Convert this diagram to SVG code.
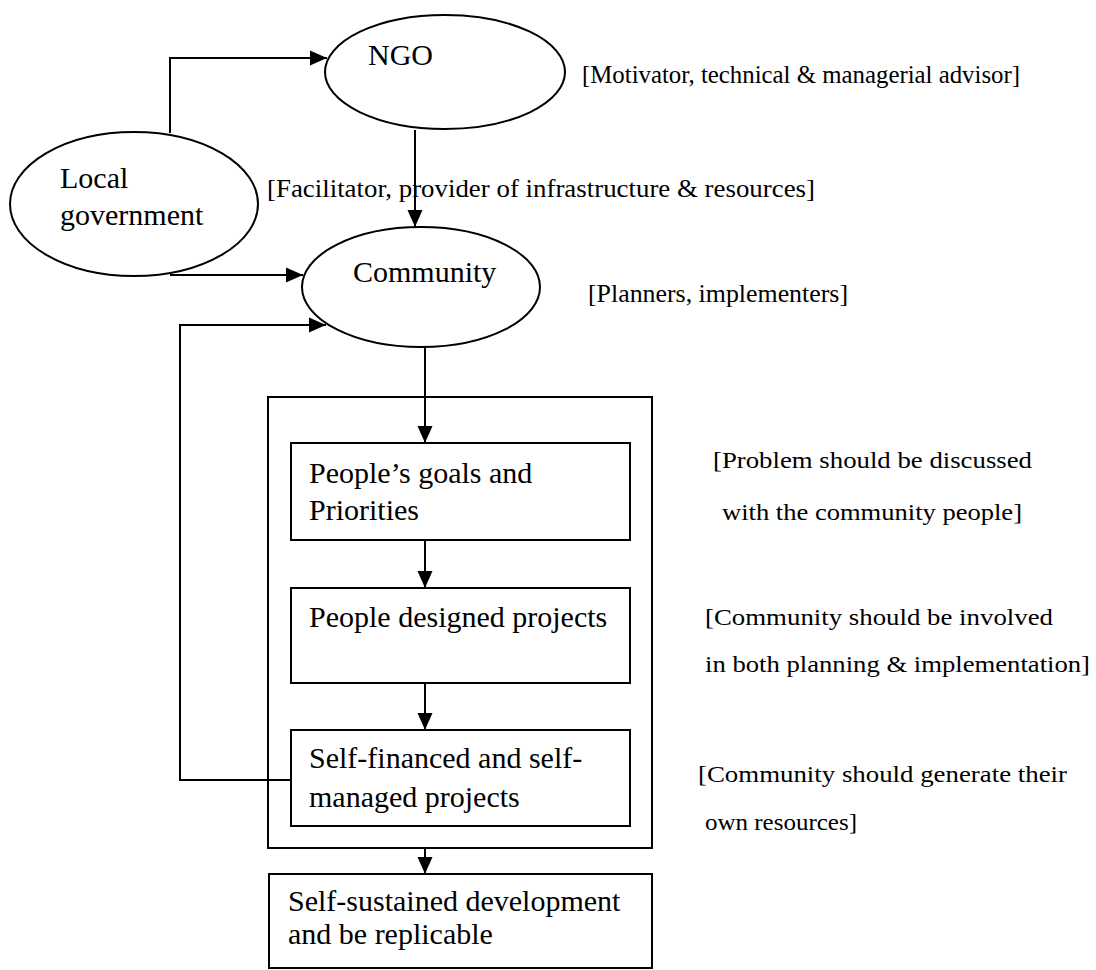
<svg xmlns="http://www.w3.org/2000/svg" width="1096" height="970" viewBox="0 0 1096 970">
<style>
.shape{fill:#fff;stroke:#000;stroke-width:2}
.edge{fill:none;stroke:#000;stroke-width:2}
.node{font-family:"Liberation Serif","Times New Roman",serif;font-size:30px;fill:#000}
.lab{font-family:"Liberation Serif","Times New Roman",serif;font-size:25px;fill:#000}
.lab2{font-family:"Liberation Serif","Times New Roman",serif;font-size:23px;fill:#000}
</style>
<defs>
<marker id="ah" markerUnits="userSpaceOnUse" markerWidth="18" markerHeight="18" viewBox="0 0 18 18" refX="17" refY="9" orient="auto">
<path d="M0,1.5 L17,9 L0,16.5 Z" fill="#000"/>
</marker>
</defs>
<rect x="0" y="0" width="1096" height="970" fill="#fff"/>
<g id="container"><rect class="shape" x="268" y="397" width="384" height="451"/></g>
<g id="ngo"><ellipse class="shape" cx="445" cy="72" rx="120" ry="57"/><text class="node" x="368" y="65">NGO</text></g>
<g id="localgov"><ellipse class="shape" cx="134" cy="204" rx="124" ry="72"/><text class="node" x="60" y="188">Local</text><text class="node" x="60" y="225">government</text></g>
<g id="community"><ellipse class="shape" cx="421" cy="287" rx="119" ry="60"/><text class="node" x="353" y="282">Community</text></g>
<g id="goals"><rect class="shape" x="291" y="443" width="339" height="97"/><text class="node" x="309" y="483">People’s goals and</text><text class="node" x="309" y="520">Priorities</text></g>
<g id="designed"><rect class="shape" x="291" y="588" width="339" height="95"/><text class="node" x="309" y="627">People designed projects</text></g>
<g id="selffin"><rect class="shape" x="291" y="730" width="339" height="96"/><text class="node" x="309" y="768">Self-financed and self-</text><text class="node" x="309" y="807">managed projects</text></g>
<g id="sustained"><rect class="shape" x="269" y="874" width="383" height="94"/><text class="node" x="288" y="911">Self-sustained development</text><text class="node" x="288" y="944">and be replicable</text></g>
<g id="connectors">
<path class="edge" d="M170,133 L170,58 L327,58" marker-end="url(#ah)"/>
<path class="edge" d="M415,130 L415,227" marker-end="url(#ah)"/>
<path class="edge" d="M170,275 L303,275" marker-end="url(#ah)"/>
<path class="edge" d="M291,780 L180,780 L180,325 L326,325" marker-end="url(#ah)"/>
<path class="edge" d="M425,347 L425,443" marker-end="url(#ah)"/>
<path class="edge" d="M425,540 L425,588" marker-end="url(#ah)"/>
<path class="edge" d="M425,683 L425,730" marker-end="url(#ah)"/>
<path class="edge" d="M425,848 L425,874" marker-end="url(#ah)"/>
</g>
<g id="labels">
<text class="lab" x="582" y="83" textLength="438" lengthAdjust="spacingAndGlyphs">[Motivator, technical &amp; managerial advisor]</text>
<text class="lab" x="267" y="197" textLength="548" lengthAdjust="spacingAndGlyphs">[Facilitator, provider of infrastructure &amp; resources]</text>
<text class="lab" x="588" y="302" textLength="260" lengthAdjust="spacingAndGlyphs">[Planners, implementers]</text>
<text class="lab2" x="713" y="468" textLength="319" lengthAdjust="spacingAndGlyphs">[Problem should be discussed</text>
<text class="lab2" x="722" y="520" textLength="300" lengthAdjust="spacingAndGlyphs">with the community people]</text>
<text class="lab2" x="705" y="625" textLength="348" lengthAdjust="spacingAndGlyphs">[Community should be involved</text>
<text class="lab2" x="705" y="672" textLength="385" lengthAdjust="spacingAndGlyphs">in both planning &amp; implementation]</text>
<text class="lab2" x="698" y="782" textLength="369" lengthAdjust="spacingAndGlyphs">[Community should generate their</text>
<text class="lab2" x="705" y="830" textLength="152" lengthAdjust="spacingAndGlyphs">own resources]</text>
</g>
</svg>
